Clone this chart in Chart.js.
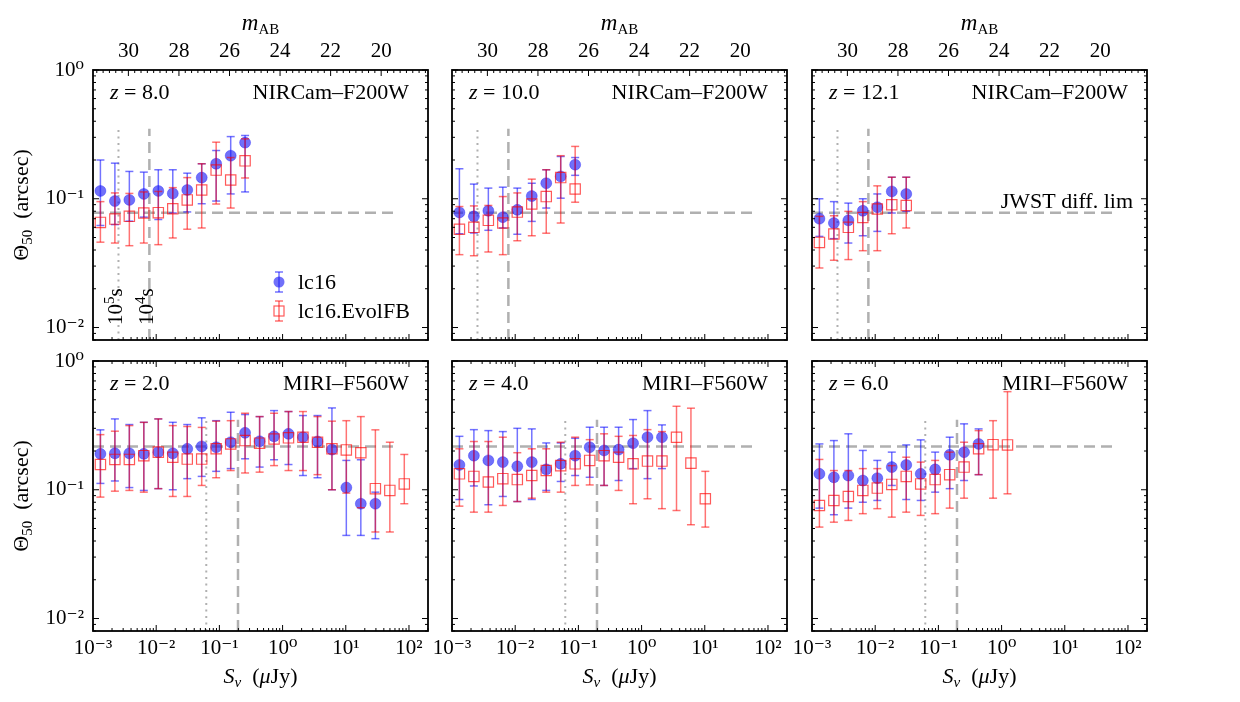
<!DOCTYPE html>
<html>
<head>
<meta charset="utf-8">
<script src="https://cdn.jsdelivr.net/npm/chart.js@4.4.1/dist/chart.umd.min.js"></script>
<style>
  html, body { margin: 0; padding: 0; background: #fff; }
  body { width: 1240px; height: 702px; position: relative; overflow: hidden; }
  canvas { position: absolute; }
</style>
</head>
<body>
<canvas id="p0" width="447" height="415" style="left:1px;top:0px"></canvas>
<canvas id="p1" width="447" height="415" style="left:360px;top:0px"></canvas>
<canvas id="p2" width="447" height="415" style="left:720px;top:0px"></canvas>
<canvas id="p3" width="447" height="415" style="left:1px;top:291px"></canvas>
<canvas id="p4" width="447" height="415" style="left:360px;top:291px"></canvas>
<canvas id="p5" width="447" height="415" style="left:720px;top:291px"></canvas>
<script>
// flux bins (µJy), shared by every panel
const bins = [0.00131, 0.00222, 0.00376, 0.00637, 0.0108, 0.0183, 0.031, 0.0525, 0.0889, 0.151, 0.255,
              0.433, 0.733, 1.24, 2.1, 3.57, 6.04, 10.2, 17.3, 29.4, 49.8, 84.3];

// tick labels
const decadeTicks = [0.001, 0.01, 0.1, 1, 10, 100];
const decadeLabels = ['10⁻³', '10⁻²', '10⁻¹', '10⁰', '10¹', '10²'];
const thetaTicks = [1, 0.1, 0.01];
const thetaLabels = ['10⁰', '10⁻¹', '10⁻²'];
const magTicks = [30, 28, 26, 24, 22, 20];

// z = 8.0 NIRCam
const z8Blue   = [0.115, 0.096, 0.098, 0.109, 0.115, 0.110, 0.117, 0.146, 0.187, 0.216, 0.273];
const z8BlueLo = [0.062, 0.063, 0.067, 0.072, 0.069, 0.0775, 0.079, 0.0915, 0.096, 0.109, 0.113];
const z8BlueHi = [0.200, 0.189, 0.163, 0.161, 0.168, 0.168, 0.158, 0.187, 0.237, 0.304, 0.310];
const z8Red    = [0.0655, 0.0695, 0.073, 0.0775, 0.078, 0.0836, 0.098, 0.117, 0.167, 0.140, 0.197];
const z8RedLo  = [0.046, 0.0453, 0.0432, 0.0453, 0.044, 0.0496, 0.058, 0.0593, 0.091, 0.0847, 0.145];
const z8RedHi  = [0.095, 0.111, 0.110, 0.113, 0.114, 0.122, 0.146, 0.187, 0.275, 0.209, 0.292];

// z = 10.0 NIRCam
const z10Blue   = [0.0783, 0.073, 0.0807, 0.072, 0.082, 0.105, 0.132, 0.149, 0.184];
const z10BlueLo = [0.0535, 0.0542, 0.0569, 0.0593, 0.053, 0.0667, 0.0847, 0.101, 0.152];
const z10BlueHi = [0.171, 0.130, 0.121, 0.123, 0.121, 0.132, 0.168, 0.213, 0.209];
const z10Red    = [0.058, 0.060, 0.068, 0.0648, 0.0788, 0.091, 0.104, 0.146, 0.119];
const z10RedLo  = [0.0368, 0.0361, 0.0386, 0.0368, 0.0472, 0.0516, 0.054, 0.0648, 0.094];
const z10RedHi  = [0.087, 0.088, 0.0887, 0.104, 0.111, 0.142, 0.168, 0.216, 0.255];

// z = 12.1 NIRCam
const z12Blue   = [0.070, 0.0648, 0.068, 0.0807, 0.086, 0.114, 0.109];
const z12BlueLo = [0.051, 0.049, 0.0453, 0.0516, 0.0558, 0.0775, 0.0798];
const z12BlueHi = [0.100, 0.095, 0.0925, 0.100, 0.109, 0.147, 0.147];
const z12Red    = [0.0458, 0.0532, 0.060, 0.0716, 0.0832, 0.0898, 0.0887];
const z12RedLo  = [0.029, 0.0333, 0.0337, 0.0395, 0.0395, 0.0535, 0.0593];
const z12RedHi  = [0.073, 0.0738, 0.0798, 0.095, 0.126, 0.147, 0.147];

// z = 2.0 MIRI
const z2Blue   = [0.190, 0.192, 0.192, 0.190, 0.196, 0.192, 0.208, 0.217, 0.214, 0.234, 0.277, 0.238, 0.260, 0.272, 0.256, 0.237, 0.205, 0.104, 0.0779, 0.0779];
const z2BlueLo = [0.112, 0.117, 0.104, 0.0988, 0.102, 0.100, 0.122, 0.127, 0.139, 0.146, 0.174, 0.150, 0.171, 0.157, 0.129, 0.124, 0.100, 0.0442, 0.0442, 0.0417];
const z2BlueHi = [0.292, 0.355, 0.321, 0.334, 0.355, 0.334, 0.321, 0.362, 0.344, 0.400, 0.384, 0.370, 0.412, 0.405, 0.377, 0.377, 0.432, 0.169, 0.171, 0.0958];
const z2Red    = [0.157, 0.172, 0.172, 0.184, 0.196, 0.179, 0.173, 0.173, 0.208, 0.227, 0.241, 0.230, 0.248, 0.253, 0.256, 0.234, 0.208, 0.204, 0.194, 0.102, 0.0988, 0.111];
const z2RedLo  = [0.0877, 0.0975, 0.0988, 0.0958, 0.102, 0.0887, 0.0887, 0.108, 0.124, 0.141, 0.135, 0.137, 0.154, 0.141, 0.141, 0.131, 0.100, 0.0942, 0.0725, 0.047, 0.047, 0.0779];
const z2RedHi  = [0.268, 0.285, 0.315, 0.334, 0.355, 0.315, 0.310, 0.305, 0.341, 0.344, 0.393, 0.370, 0.393, 0.405, 0.405, 0.370, 0.341, 0.344, 0.370, 0.292, 0.234, 0.188];

// z = 4.0 MIRI
const z4Blue   = [0.156, 0.184, 0.169, 0.164, 0.152, 0.164, 0.144, 0.159, 0.184, 0.214, 0.202, 0.205, 0.230, 0.256, 0.256];
const z4BlueLo = [0.084, 0.107, 0.0765, 0.0887, 0.081, 0.084, 0.0988, 0.116, 0.129, 0.125, 0.108, 0.118, 0.146, 0.122, 0.146];
const z4BlueHi = [0.260, 0.293, 0.288, 0.283, 0.300, 0.297, 0.231, 0.231, 0.251, 0.306, 0.306, 0.306, 0.351, 0.412, 0.319];
const z4Red    = [0.133, 0.127, 0.115, 0.122, 0.120, 0.129, 0.141, 0.154, 0.159, 0.169, 0.184, 0.179, 0.159, 0.167, 0.167, 0.256, 0.161, 0.0851];
const z4RedLo  = [0.0746, 0.067, 0.067, 0.0755, 0.081, 0.086, 0.0958, 0.0958, 0.108, 0.109, 0.108, 0.0988, 0.0779, 0.0851, 0.0713, 0.069, 0.0535, 0.0513];
const z4RedHi  = [0.208, 0.237, 0.237, 0.256, 0.194, 0.208, 0.208, 0.234, 0.256, 0.245, 0.272, 0.260, 0.264, 0.293, 0.283, 0.445, 0.430, 0.139];

// z = 6.0 MIRI
const z6Blue   = [0.133, 0.125, 0.129, 0.118, 0.123, 0.150, 0.156, 0.133, 0.144, 0.187, 0.196, 0.227];
const z6BlueLo = [0.072, 0.064, 0.072, 0.080, 0.0826, 0.108, 0.084, 0.0826, 0.0958, 0.102, 0.118, 0.131];
const z6BlueHi = [0.227, 0.241, 0.272, 0.202, 0.169, 0.196, 0.223, 0.244, 0.196, 0.256, 0.325, 0.297];
const z6Red    = [0.0755, 0.0826, 0.0887, 0.0988, 0.103, 0.110, 0.127, 0.111, 0.120, 0.131, 0.150, 0.208, 0.224, 0.223];
const z6RedLo  = [0.0513, 0.056, 0.0578, 0.0652, 0.0713, 0.0613, 0.067, 0.0632, 0.0652, 0.072, 0.086, 0.131, 0.086, 0.093];
const z6RedHi  = [0.172, 0.141, 0.141, 0.146, 0.146, 0.154, 0.179, 0.164, 0.169, 0.196, 0.234, 0.288, 0.344, 0.578];

// reference lines: diffraction limit (arcsec) and flux limits for 1e5 s / 1e4 s (µJy)
const nircamLim = 0.078, miriLim = 0.217;
const nircamDepth = [0.00253, 0.0078];
const miriDepth = [0.062, 0.197];
const limEnd = 56, depthTop = 0.35;

const xMin = 0.001, xMax = 200, yMin = 0.008, yMax = 1;

const SERIF = '"Liberation Serif", "DejaVu Serif", serif';
const F = s => s + 'px ' + SERIF;
const FI = s => 'italic ' + s + 'px ' + SERIF;
Chart.defaults.font.family = SERIF;
Chart.defaults.font.size = 21;
Chart.defaults.color = '#000';

const BLUE_PT = 'rgba(25,25,245,0.62)';
const BLUE_BAR = 'rgba(0,0,255,0.55)';
const RED_PT = 'rgba(255,0,0,0.65)';
const RED_BAR = 'rgba(255,0,0,0.55)';
const GREY = '#b0b0b0';

const magToFlux = m => Math.pow(10, (23.9 - m) / 2.5);

function richText(ctx, parts, x, y, align) {
  let w = 0;
  parts.forEach(p => { ctx.font = p.f; p.w = ctx.measureText(p.t).width; w += p.w; });
  let cx = align === 'center' ? x - w / 2 : align === 'right' ? x - w : x;
  ctx.textAlign = 'left';
  ctx.textBaseline = 'alphabetic';
  parts.forEach(p => { ctx.font = p.f; ctx.fillText(p.t, cx, y + (p.dy || 0)); cx += p.w; });
}

function seg(ctx, x1, y1, x2, y2) {
  ctx.beginPath(); ctx.moveTo(x1, y1); ctx.lineTo(x2, y2); ctx.stroke();
}

function errBar(ctx, x, yTop, yBot, cap) {
  seg(ctx, x, yTop, x, yBot);
  seg(ctx, x - cap, yTop, x + cap, yTop);
  seg(ctx, x - cap, yBot, x + cap, yBot);
}

const decor = {
  id: 'decor',
  beforeDatasetDraw(chart, args) {
    const ds = chart.data.datasets[args.index];
    if (!ds.errLo) return;
    const ctx = chart.ctx, ys = chart.scales.y, a = chart.chartArea;
    ctx.save();
    ctx.beginPath(); ctx.rect(a.left, a.top, a.right - a.left, a.bottom - a.top); ctx.clip();
    ctx.strokeStyle = ds.errColor;
    ctx.lineWidth = 1.5;
    args.meta.data.forEach((pt, i) => {
      errBar(ctx, pt.x, ys.getPixelForValue(ds.errHi[i]), ys.getPixelForValue(ds.errLo[i]), 4);
    });
    ctx.restore();
  },
  afterDraw(chart, args, o) {
    const ctx = chart.ctx, xs = chart.scales.x, ys = chart.scales.y, xt = chart.scales.xTop;
    const { left, right, top, bottom } = chart.chartArea;
    ctx.save();
    ctx.fillStyle = '#000';
    ctx.strokeStyle = '#000';
    ctx.lineWidth = 1;

    // log ticks on bottom (and top for the lower row)
    for (let d = -3; d <= 2; d++) {
      for (let k = 1; k <= 9; k++) {
        const v = k * Math.pow(10, d);
        if (v < xMin || v > xMax) continue;
        const px = xs.getPixelForValue(v), len = k === 1 ? 6 : 3;
        seg(ctx, px, bottom, px, bottom - len);
        if (o.row === 1) seg(ctx, px, top, px, top + len);
      }
    }
    // magnitude ticks on top of the upper row
    if (o.row === 0) {
      for (let m = 31.25; m >= 18.25; m -= 0.25) {
        const px = xt.getPixelForValue(magToFlux(m));
        const len = (m % 2 === 0) ? 6 : 3;
        seg(ctx, px, top, px, top + len);
      }
    }
    // log ticks left and right
    for (let d = -3; d <= 0; d++) {
      for (let k = 1; k <= 9; k++) {
        const v = k * Math.pow(10, d);
        if (v < yMin || v > yMax) continue;
        const py = ys.getPixelForValue(v), len = k === 1 ? 6 : 3;
        seg(ctx, left, py, left + len, py);
        seg(ctx, right, py, right - len, py);
      }
    }
    // frame
    ctx.lineWidth = 1.8;
    ctx.strokeRect(left, top, right - left, bottom - top);

    // panel labels
    richText(ctx, [{ t: 'z', f: FI(22) }, { t: ' = ' + o.z, f: F(22) }], left + 17, top + 29, 'left');
    richText(ctx, [{ t: o.band, f: F(22) }], right - 19, top + 29, 'right');

    // axis titles
    const cx = (left + right) / 2;
    if (o.row === 0) {
      richText(ctx, [{ t: 'm', f: FI(23) }, { t: 'AB', f: F(15), dy: 4 }], cx, top - 40, 'center');
    } else {
      richText(ctx, [{ t: 'S', f: FI(22) }, { t: 'ν', f: FI(15), dy: 4 }, { t: '  (', f: F(22) },
                     { t: 'μ', f: FI(22) }, { t: 'Jy)', f: F(22) }], cx, bottom + 52, 'center');
    }
    if (o.col === 0) {
      ctx.save();
      ctx.translate(27, (top + bottom) / 2);
      ctx.rotate(-Math.PI / 2);
      richText(ctx, [{ t: 'Θ', f: F(22) }, { t: '50', f: F(15), dy: 4 }, { t: '  (arcsec)', f: F(22) }], 0, 0, 'center');
      ctx.restore();
    }

    // exposure-time labels and legend, first panel only
    if (o.labels) {
      [[o.depth[0], '5'], [o.depth[1], '4']].forEach(([v, e]) => {
        ctx.save();
        ctx.translate(xs.getPixelForValue(v) + 4, bottom - 15);
        ctx.rotate(-Math.PI / 2);
        richText(ctx, [{ t: '10', f: F(21) }, { t: e, f: F(15), dy: -8 }, { t: 's', f: F(21) }], 0, 0, 'left');
        ctx.restore();
      });
      const lx = left + 186, ly1 = top + 212, ly2 = top + 241;
      ctx.lineWidth = 1.5;
      ctx.strokeStyle = BLUE_BAR;
      errBar(ctx, lx, ly1 - 10, ly1 + 10, 4);
      ctx.fillStyle = BLUE_PT;
      ctx.beginPath(); ctx.arc(lx, ly1, 5.5, 0, Math.PI * 2); ctx.fill();
      ctx.strokeStyle = RED_BAR;
      errBar(ctx, lx, ly2 - 10, ly2 + 10, 4);
      ctx.strokeStyle = RED_PT;
      ctx.lineWidth = 1.2;
      ctx.strokeRect(lx - 5, ly2 - 5, 10, 10);
      ctx.fillStyle = '#000';
      richText(ctx, [{ t: 'lc16', f: F(22) }], left + 205, ly1 + 7, 'left');
      richText(ctx, [{ t: 'lc16.EvolFB', f: F(22) }], left + 205, ly2 + 7, 'left');
    }
    if (o.limLabel) {
      richText(ctx, [{ t: 'JWST diff. lim', f: F(22) }], right - 14, ys.getPixelForValue(o.lim) - 5, 'right');
    }
    ctx.restore();
  }
};

const panels = [
  { id: 'p0', row: 0, col: 0, z: '8.0', band: 'NIRCam–F200W', lim: nircamLim, depth: nircamDepth, labels: true,
    blue: z8Blue, blueLo: z8BlueLo, blueHi: z8BlueHi, red: z8Red, redLo: z8RedLo, redHi: z8RedHi },
  { id: 'p1', row: 0, col: 1, z: '10.0', band: 'NIRCam–F200W', lim: nircamLim, depth: nircamDepth,
    blue: z10Blue, blueLo: z10BlueLo, blueHi: z10BlueHi, red: z10Red, redLo: z10RedLo, redHi: z10RedHi },
  { id: 'p2', row: 0, col: 2, z: '12.1', band: 'NIRCam–F200W', lim: nircamLim, depth: nircamDepth, limLabel: true,
    blue: z12Blue, blueLo: z12BlueLo, blueHi: z12BlueHi, red: z12Red, redLo: z12RedLo, redHi: z12RedHi },
  { id: 'p3', row: 1, col: 0, z: '2.0', band: 'MIRI–F560W', lim: miriLim, depth: miriDepth,
    blue: z2Blue, blueLo: z2BlueLo, blueHi: z2BlueHi, red: z2Red, redLo: z2RedLo, redHi: z2RedHi },
  { id: 'p4', row: 1, col: 1, z: '4.0', band: 'MIRI–F560W', lim: miriLim, depth: miriDepth,
    blue: z4Blue, blueLo: z4BlueLo, blueHi: z4BlueHi, red: z4Red, redLo: z4RedLo, redHi: z4RedHi },
  { id: 'p5', row: 1, col: 2, z: '6.0', band: 'MIRI–F560W', lim: miriLim, depth: miriDepth,
    blue: z6Blue, blueLo: z6BlueLo, blueHi: z6BlueHi, red: z6Red, redLo: z6RedLo, redHi: z6RedHi }
];

panels.forEach(p => {
  const bluePts = p.blue.map((v, i) => ({ x: bins[i], y: v }));
  const redPts = p.red.map((v, i) => ({ x: bins[i], y: v }));
  new Chart(document.getElementById(p.id), {
    type: 'line',
    data: {
      datasets: [
        { data: [{ x: xMin, y: p.lim }, { x: limEnd, y: p.lim }], borderColor: GREY, borderWidth: 2.5,
          borderDash: [11, 6], pointRadius: 0, order: 5 },
        { data: [{ x: p.depth[0], y: yMin }, { x: p.depth[0], y: depthTop }], borderColor: GREY, borderWidth: 2,
          borderDash: [2, 4.5], pointRadius: 0, order: 4 },
        { data: [{ x: p.depth[1], y: yMin }, { x: p.depth[1], y: depthTop }], borderColor: GREY, borderWidth: 2.5,
          borderDash: [11, 6], pointRadius: 0, order: 3 },
        { data: bluePts, showLine: false, pointStyle: 'circle', pointRadius: 5.5, backgroundColor: BLUE_PT,
          borderColor: 'rgba(0,0,255,0.3)', borderWidth: 1, errLo: p.blueLo, errHi: p.blueHi, errColor: BLUE_BAR, order: 2 },
        { data: redPts, showLine: false, pointStyle: 'rect', pointRadius: 7.3, backgroundColor: 'rgba(255,255,255,0)',
          borderColor: RED_PT, borderWidth: 1.2, errLo: p.redLo, errHi: p.redHi, errColor: RED_BAR, order: 1 }
      ]
    },
    options: {
      responsive: false,
      animation: false,
      events: [],
      layout: { padding: { right: 20, left: 0, top: 0, bottom: 0 } },
      plugins: { legend: { display: false }, tooltip: { enabled: false }, decor: p },
      scales: {
        x: {
          type: 'logarithmic', position: 'bottom', min: xMin, max: xMax,
          grid: { display: false, drawTicks: false }, border: { display: false },
          afterBuildTicks: s => { s.ticks = decadeTicks.map(v => ({ value: v })); },
          ticks: { display: p.row === 1, autoSkip: false, maxRotation: 0, padding: 5,
                   callback: (v, i) => decadeLabels[i] },
          afterFit: s => { s.height = 75; }
        },
        xTop: {
          type: 'logarithmic', position: 'top', min: xMin, max: xMax,
          grid: { display: false, drawTicks: false }, border: { display: false },
          afterBuildTicks: s => { s.ticks = magTicks.map(m => ({ value: magToFlux(m) })); },
          ticks: { display: p.row === 0, autoSkip: false, maxRotation: 0, padding: 6,
                   callback: (v, i) => String(magTicks[i]) },
          afterFit: s => { s.height = 70; }
        },
        y: {
          type: 'logarithmic', position: 'left', min: yMin, max: yMax,
          grid: { display: false, drawTicks: false }, border: { display: false },
          afterBuildTicks: s => { s.ticks = thetaTicks.map(v => ({ value: v })); },
          ticks: { display: p.col === 0, autoSkip: false, padding: 9,
                   callback: (v, i) => thetaLabels[i] },
          afterFit: s => { s.width = 92; }
        }
      }
    },
    plugins: [decor]
  });
});
</script>
</body>
</html>
